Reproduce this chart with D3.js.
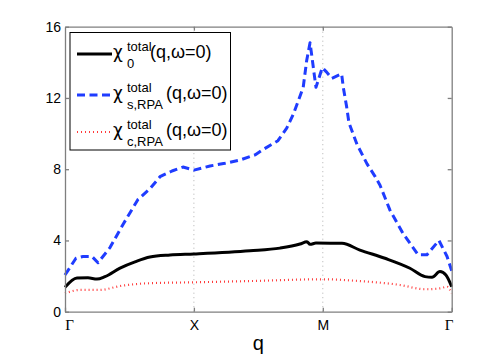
<!DOCTYPE html>
<html>
<head>
<meta charset="utf-8">
<script src="https://cdn.jsdelivr.net/npm/d3@7"></script>
<style>
body { margin: 0; background: #fff; }
text { font-family: "Liberation Sans", Arial, sans-serif; }
</style>
</head>
<body>
<script>
const width = 499, height = 356;
const margin = {top: 26.7, right: 47.3, bottom: 44.3, left: 65};

// high symmetry points along the path
const pathLabels = ["\u0393", "X", "M", "\u0393"];
const pathTicks = [0, 1, 2, 3];
const yTicks = [0, 4, 8, 12, 16];

// chi_0 total (black solid)
const chi0Q = [0, 0.093, 0.178, 0.248, 0.310, 0.427, 0.543, 0.659, 0.815, 1.0, 1.435, 1.668, 1.823, 1.877, 1.901, 1.947, 2.149, 2.288, 2.482, 2.676, 2.793, 2.847, 2.909, 2.955, 3.0];
const chi0Val = [1.37, 1.89, 1.9, 1.83, 1.97, 2.45, 2.8, 3.07, 3.18, 3.24, 3.42, 3.57, 3.8, 3.93, 3.78, 3.85, 3.84, 3.46, 3.0, 2.44, 1.97, 1.93, 2.25, 2.06, 1.4];

// chi_s RPA total (blue dashed)
const chiSQ = [0, 0.085, 0.140, 0.209, 0.256, 0.349, 0.450, 0.566, 0.659, 0.737, 0.830, 0.915, 1.0, 1.125, 1.241, 1.358, 1.474, 1.536, 1.652, 1.720, 1.772, 1.823, 1.848, 1.875, 1.901, 1.916, 1.932, 1.947, 1.965, 1.996, 2.030, 2.069, 2.146, 2.159, 2.185, 2.203, 2.265, 2.343, 2.405, 2.444, 2.521, 2.622, 2.739, 2.808, 2.901, 2.964, 3.0];
const chiSVal = [2.06, 3.0, 3.1, 3.1, 2.75, 3.6, 4.9, 6.3, 6.9, 7.58, 7.9, 8.12, 7.95, 8.18, 8.33, 8.52, 8.8, 9.1, 9.6, 10.3, 11.1, 12.1, 12.6, 14.1, 15.1, 14.3, 13.4, 12.6, 13.0, 13.7, 13.45, 13.1, 13.35, 12.6, 11.5, 10.6, 9.4, 8.3, 7.6, 7.1, 5.7, 4.4, 3.2, 3.2, 4.0, 3.1, 2.3];

// chi_c RPA total (red dotted)
const chiCQ = [0, 0.116, 0.272, 0.427, 0.659, 1.0, 1.435, 2.0, 2.288, 2.599, 2.793, 2.909, 2.964, 3.0];
const chiCVal = [1.03, 1.22, 1.22, 1.44, 1.6, 1.65, 1.72, 1.82, 1.72, 1.5, 1.26, 1.31, 1.4, 1.03];

const series = [
	{q: chi0Q, v: chi0Val, color: "#000", width: 3, dash: null, curve: d3.curveMonotoneX, sub: "0"},
	{q: chiSQ, v: chiSVal, color: "#1f3cff", width: 3, dash: "8,4.5", curve: d3.curveLinear, sub: "s,RPA"},
	{q: chiCQ, v: chiCVal, color: "#ff3b3b", width: 2.2, dash: "1,3", curve: d3.curveMonotoneX, sub: "c,RPA"}
];

const axisColor = "#7f7f7f";

const svg = d3.select("body").append("svg")
	.attr("width", width)
	.attr("height", height);

const x = d3.scaleLinear().domain([0, 3]).range([margin.left, width - margin.right]);
const y = d3.scaleLinear().domain([0, 16]).range([height - margin.bottom, margin.top]);

// dotted guides at X and M
svg.selectAll("line.guide")
	.data([1, 2])
	.enter().append("line")
	.attr("class", "guide")
	.attr("x1", d => x(d)).attr("x2", d => x(d))
	.attr("y1", y(0)).attr("y2", y(16))
	.attr("stroke", "#b0b0b0")
	.attr("stroke-width", 1)
	.attr("stroke-dasharray", "1,3.5");

// curves
for (let s of series) {
	const pts = s.q.map((q, i) => [q, s.v[i]]);
	const line = d3.line().x(d => x(d[0])).y(d => y(d[1])).curve(s.curve);
	svg.append("path")
		.attr("d", line(pts))
		.attr("fill", "none")
		.attr("stroke", s.color)
		.attr("stroke-width", s.width)
		.attr("stroke-linejoin", "round")
		.attr("stroke-dasharray", s.dash);
}

// axes box with inward ticks
function styleAxis(g) {
	g.select(".domain").attr("stroke", axisColor).attr("stroke-width", 1.3);
	g.selectAll(".tick line").attr("stroke", axisColor).attr("stroke-width", 1.3);
	g.selectAll("text").attr("fill", "#000").style("font-size", "14px");
}

const xAxis = svg.append("g")
	.attr("transform", `translate(0,${y(0)})`)
	.call(d3.axisBottom(x).tickValues(pathTicks).tickSize(-4).tickSizeOuter(0)
		.tickFormat((d, i) => pathLabels[i]));
styleAxis(xAxis);
xAxis.selectAll("text")
	.attr("y", 8)
	.attr("dx", (d, i) => i == 0 ? 4 : (i == 3 ? -3 : 0))
	.style("font-family", (d, i) => (i == 0 || i == 3) ? "'Liberation Serif', serif" : null)
	.style("font-size", (d, i) => (i == 0 || i == 3) ? "15px" : "14px");

const xTop = svg.append("g")
	.attr("transform", `translate(0,${y(16)})`)
	.call(d3.axisTop(x).tickValues([1, 2]).tickSize(-4).tickSizeOuter(0).tickFormat(""));
styleAxis(xTop);

const yAxis = svg.append("g")
	.attr("transform", `translate(${x(0)},0)`)
	.call(d3.axisLeft(y).tickValues(yTicks).tickSize(-4).tickSizeOuter(0));
styleAxis(yAxis);
yAxis.selectAll("text").attr("x", -4);

const yRight = svg.append("g")
	.attr("transform", `translate(${x(3)},0)`)
	.call(d3.axisRight(y).tickValues(yTicks).tickSize(-4).tickSizeOuter(0).tickFormat(""));
styleAxis(yRight);

// x label
svg.append("text")
	.attr("x", (x(0) + x(3)) / 2)
	.attr("y", 350)
	.attr("text-anchor", "middle")
	.style("font-size", "20px")
	.text("q");

// legend
const legend = svg.append("g");
legend.append("rect")
	.attr("x", 70).attr("y", 32.5)
	.attr("width", 160.5).attr("height", 117.5)
	.attr("fill", "#fff")
	.attr("stroke", "#000")
	.attr("stroke-width", 1);

const rowY = [54, 95, 132];
series.forEach((s, i) => {
	const ry = rowY[i];
	legend.append("line")
		.attr("x1", 77).attr("x2", 112)
		.attr("y1", ry).attr("y2", ry)
		.attr("stroke", s.color)
		.attr("stroke-width", s.width)
		.attr("stroke-dasharray", s.dash);
	const base = ry + 4;
	legend.append("text")
		.attr("x", 113).attr("y", base)
		.style("font-family", "'DejaVu Sans', sans-serif")
		.style("font-size", "17px")
		.text("\u03c7");
	legend.append("text")
		.attr("x", 127).attr("y", base - 7)
		.style("font-size", "13px")
		.text("total");
	legend.append("text")
		.attr("x", 127).attr("y", base + 10)
		.style("font-size", "13px")
		.text(s.sub);
	legend.append("text")
		.attr("x", i == 0 ? 150 : 166).attr("y", base)
		.style("font-size", "18px")
		.text("(q,\u03c9=0)");
});
</script>
</body>
</html>
